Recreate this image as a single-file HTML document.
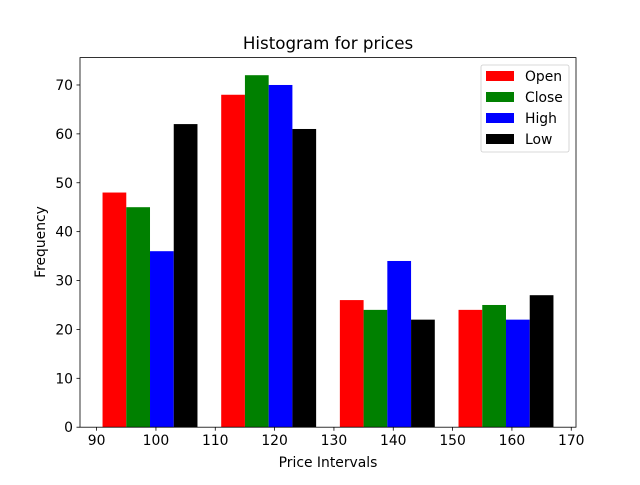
<!DOCTYPE html>
<html><head><meta charset="utf-8"><style>
body{margin:0;background:#fff;}
svg text{font-family:"DejaVu Sans","Liberation Sans",sans-serif;}
</style></head><body>
<svg id="chart" width="640" height="480" xmlns="http://www.w3.org/2000/svg"></svg>
<script>
const series = ["Open","Close","High","Low"];
const colors = ["#ff0000","#008000","#0000ff","#000000"];
const binEdges = [89,109,129,149,169];
const openVals = [48,68,26,24];
const closeVals = [45,72,24,25];
const highVals = [36,70,34,22];
const lowVals = [62,61,22,27];
const xTicks = [90,100,110,120,130,140,150,160,170];
const yTicks = [0,10,20,30,40,50,60,70];

const values=[openVals,closeVals,highVals,lowVals];
const L=80,R=576,T=57.6,B=427.2;
const xmin=87.2,xmax=170.8,ymin=0,ymax=75.6;
const X=v=>L+(v-xmin)/(xmax-xmin)*(R-L);
const Y=v=>B-(v-ymin)/(ymax-ymin)*(B-T);
const svg=document.getElementById('chart');
const NS="http://www.w3.org/2000/svg";
function mk(tag,attrs,parent){const e=document.createElementNS(NS,tag);for(const k in attrs)e.setAttribute(k,attrs[k]);(parent||svg).appendChild(e);return e;}

for(let b=0;b<binEdges.length-1;b++){
  const w=binEdges[b+1]-binEdges[b];
  const bw=w*0.8/series.length;
  for(let s=0;s<series.length;s++){
    const x0=binEdges[b]+w*0.1+s*bw;
    const r=mk('rect',{x:X(x0),y:Y(values[s][b]),width:X(x0+bw)-X(x0),height:Y(0)-Y(values[s][b]),fill:colors[s]});
    
    
  }
}
const frame=mk('rect',{x:L,y:T,width:R-L,height:B-T,fill:'none',stroke:'#000','stroke-width':0.8});



xTicks.forEach(t=>{
  mk('line',{x1:X(t),x2:X(t),y1:B,y2:B+3.5,stroke:'#000','stroke-width':0.8});
  const tx=mk('text',{x:X(t),y:B+18,'font-size':13.9,'text-anchor':'middle'});tx.textContent=t;
  
  
});
yTicks.forEach(t=>{
  mk('line',{x1:L-3.5,x2:L,y1:Y(t),y2:Y(t),stroke:'#000','stroke-width':0.8});
  const tx=mk('text',{x:L-7,y:Y(t)+5,'font-size':13.9,'text-anchor':'end'});tx.textContent=t;
  
  
});
const title=mk('text',{x:(L+R)/2,y:49,'font-size':16.7,'text-anchor':'middle'});title.textContent='Histogram for prices';


const xl=mk('text',{x:(L+R)/2,y:467,'font-size':13.9,'text-anchor':'middle'});xl.textContent='Price Intervals';


const yl=mk('text',{x:0,y:0,'font-size':13.9,'text-anchor':'middle',transform:'translate(45,242) rotate(-90)'});yl.textContent='Frequency';



const lg=mk('g',{});


mk('rect',{x:481,y:65,width:88,height:87,rx:2,fill:'#fff',stroke:'#ccc','stroke-width':0.8},lg);
series.forEach((s,i)=>{
  const y=69+i*21;
  mk('rect',{x:486,y:y+2,width:28,height:10,fill:colors[i]},lg);
  const t=mk('text',{x:525,y:y+12,'font-size':13.9},lg);t.textContent=s;
  
  
});
</script>
</body></html>
